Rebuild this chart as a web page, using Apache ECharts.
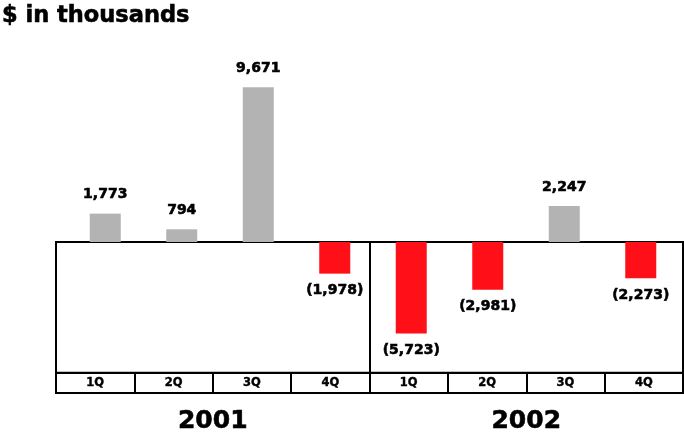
<!DOCTYPE html>
<html><head><meta charset="utf-8">
<script src="https://cdn.jsdelivr.net/npm/echarts@6/dist/echarts.min.js"></script>
<style>html,body{margin:0;padding:0;background:#fff}#c{width:684px;height:434px}</style>
</head><body><div id="c"></div>
<script>
const years = ['2001', '2002'];
const quarters = ['1Q', '2Q', '3Q', '4Q'];
const values = [1773, 794, 9671, -1978, -5723, -2981, 2247, -2273];
const unitLabel = '$ in thousands';

const categories = [];
years.forEach(y => quarters.forEach(q => categories.push(y + ' ' + q)));

const F = 'DejaVu Sans';
const L = 56, R = 1, TOP = 50, ZERO = 242, BOX_BOTTOM = 373, ROW_BOTTOM = 393, H = 434;
const BAR_L = 67, BAR_R = 5;
const yMax = 12000;
const yMin = -yMax * (BOX_BOTTOM - ZERO) / (ZERO - TOP);
const heavy = { textBorderColor: '#000', textBorderWidth: 0.6 };

function fmt(v) {
  const s = Math.abs(v).toLocaleString('en-US');
  return v < 0 ? '(' + s + ')' : s;
}

const barData = values.map(v => ({
  value: v,
  itemStyle: { color: v >= 0 ? '#b3b3b3' : '#ff0f17' },
  label: { position: v >= 0 ? 'top' : 'bottom', distance: v >= 0 ? 12 : 10 }
}));

const chart = echarts.init(document.getElementById('c'));
chart.setOption({
  animation: false,
  title: { text: unitLabel, left: 2, top: 5, padding: 0,
    textStyle: Object.assign({ fontFamily: F, fontSize: 22.5, fontWeight: 'bold', color: '#000' }, heavy) },
  grid: [
    { left: BAR_L, right: BAR_R, top: TOP, bottom: H - BOX_BOTTOM },
    { left: L, right: R, top: ZERO, bottom: H - BOX_BOTTOM, show: true, borderColor: '#000', borderWidth: 2, backgroundColor: 'transparent' },
    { left: L, right: R, top: BOX_BOTTOM, bottom: H - ROW_BOTTOM, show: true, borderColor: '#000', borderWidth: 2, backgroundColor: 'transparent' }
  ],
  xAxis: [
    { gridIndex: 0, type: 'category', data: categories,
      axisLine: { onZero: true, lineStyle: { color: '#000', width: 2 } },
      axisTick: { show: false }, axisLabel: { show: false }, splitLine: { show: false } },
    { gridIndex: 1, type: 'category', data: years,
      axisLine: { show: false }, axisTick: { show: false },
      splitLine: { show: true, interval: 0, lineStyle: { color: '#000', width: 2 } },
      axisLabel: Object.assign({ margin: 36, interval: 0, fontFamily: F, fontSize: 25, fontWeight: 'bold', color: '#000' }, heavy) },
    { gridIndex: 2, type: 'category', data: categories,
      axisLine: { show: false }, axisTick: { show: false },
      splitLine: { show: true, interval: 0, lineStyle: { color: '#000', width: 2 } },
      axisLabel: Object.assign({ margin: -10, interval: 0, verticalAlign: 'middle', fontFamily: F, fontSize: 11.5, fontWeight: 'bold', color: '#000',
        formatter: v => v.split(' ')[1] }, { textBorderColor: '#000', textBorderWidth: 0.4 }) }
  ],
  yAxis: [
    { gridIndex: 0, type: 'value', min: yMin, max: yMax, show: false },
    { gridIndex: 1, type: 'value', show: false },
    { gridIndex: 2, type: 'value', show: false }
  ],
  series: [{
    type: 'bar', xAxisIndex: 0, yAxisIndex: 0, barWidth: 31, data: barData,
    label: Object.assign({ show: true, fontFamily: F, fontSize: 14, fontWeight: 'bold', color: '#000', formatter: p => fmt(p.value) }, heavy)
  }]
});
</script></body></html>
